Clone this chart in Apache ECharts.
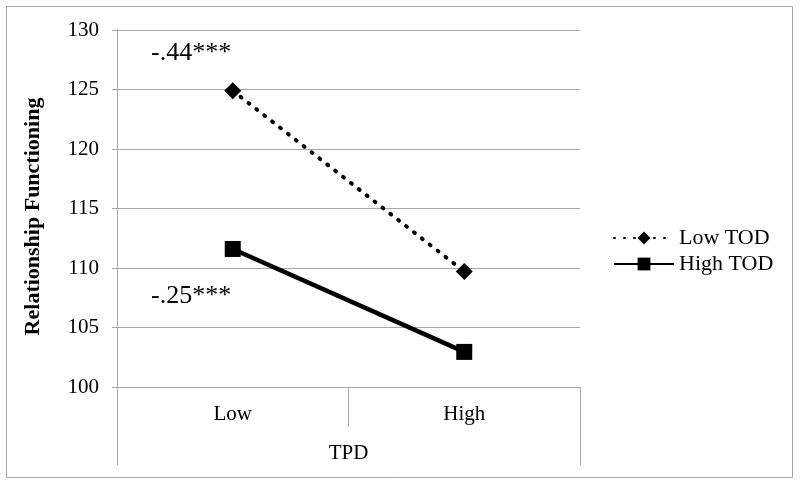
<!DOCTYPE html>
<html>
<head>
<meta charset="utf-8">
<script src="https://cdn.jsdelivr.net/npm/echarts@6/dist/echarts.min.js"></script>
<style>html,body{margin:0;padding:0;background:#fff}#c{width:800px;height:484px}</style>
</head>
<body>
<div id="c"></div>
<script>
const categories = ['Low', 'High'];
const lowTOD = [124.9, 109.7];
const highTOD = [111.6, 102.95];
const yTicks = [100, 105, 110, 115, 120, 125, 130];
const seriesNames = ['Low TOD', 'High TOD'];
const annotations = ['-.44***', '-.25***'];

const FONT = '"Liberation Serif", "Times New Roman", serif';
const chart = echarts.init(document.getElementById('c'));
chart.setOption({
  backgroundColor: '#fff',
  animation: false,
  textStyle: { fontFamily: FONT },
  grid: { left: 117, right: 220, top: 30, bottom: 97 },
  xAxis: [{
    type: 'category',
    data: categories,
    boundaryGap: true,
    axisLine: { lineStyle: { color: '#a6a6a6', width: 1 } },
    axisTick: { show: true, length: 40, lineStyle: { color: '#a6a6a6' } },
    axisLabel: { color: '#000', fontSize: 21, fontFamily: FONT, margin: 17 },
    name: 'TPD',
    nameLocation: 'middle',
    nameGap: 56,
    nameTextStyle: { color: '#000', fontSize: 21, fontFamily: FONT }
  }, {
    type: 'category',
    data: [''],
    position: 'bottom',
    boundaryGap: true,
    axisLine: { show: false },
    axisTick: { show: true, length: 78, lineStyle: { color: '#a6a6a6' } },
    axisLabel: { show: false }
  }],
  yAxis: {
    type: 'value',
    min: yTicks[0],
    max: yTicks[yTicks.length - 1],
    interval: 5,
    axisLine: { show: true, lineStyle: { color: '#a6a6a6' } },
    axisTick: { show: true, length: 5, lineStyle: { color: '#a6a6a6' } },
    splitLine: { lineStyle: { color: '#a6a6a6', width: 1 } },
    axisLabel: { color: '#000', fontSize: 21, fontFamily: FONT, margin: 18 },
    name: 'Relationship Functioning',
    nameLocation: 'middle',
    nameGap: 73,
    nameTextStyle: { color: '#000', fontSize: 22, fontWeight: 'bold', fontFamily: FONT, padding: [0, 16, 0, 0] }
  },
  legend: {
    orient: 'vertical',
    left: 608,
    top: 222,
    itemWidth: 60,
    itemHeight: 16,
    itemGap: 4,
    textStyle: { color: '#000', fontSize: 22, fontFamily: FONT },
    data: seriesNames
  },
  series: [{
    name: seriesNames[0],
    type: 'line',
    data: lowTOD,
    symbol: 'diamond',
    symbolSize: 17,
    itemStyle: { color: '#000' },
    lineStyle: { color: '#000', width: 4, type: [1, 9], cap: 'round' }
  }, {
    name: seriesNames[1],
    type: 'line',
    data: highTOD,
    symbol: 'rect',
    symbolSize: 16,
    itemStyle: { color: '#000' },
    lineStyle: { color: '#000', width: 4.5 }
  }],
  graphic: [{
    type: 'rect',
    shape: { x: 6.5, y: 6.5, width: 786, height: 471 },
    style: { fill: 'none', stroke: '#a6a6a6', lineWidth: 1 },
    z: -1
  }, {
    type: 'text',
    left: 151, top: 40,
    style: { text: annotations[0], fill: '#000', font: '26px ' + FONT }
  }, {
    type: 'text',
    left: 151, top: 283,
    style: { text: annotations[1], fill: '#000', font: '26px ' + FONT }
  }]
});
</script>
</body>
</html>
